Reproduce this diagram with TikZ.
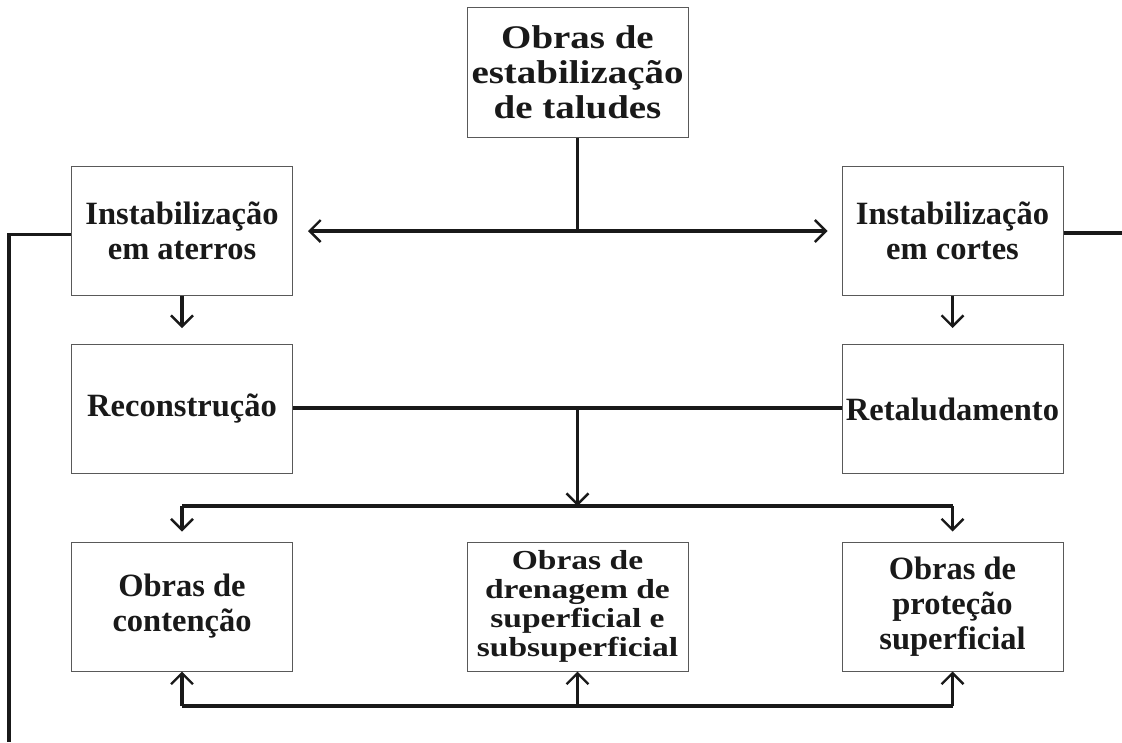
\documentclass[tikz,border=0pt]{standalone}
\usepackage{fontspec}
\setmainfont{Liberation Serif}
\newfontfamily\topfont{Liberation Serif}[FakeStretch=1.18]
\newfontfamily\midfont{Liberation Serif}[FakeStretch=1.22]
\usetikzlibrary{arrows.meta,calc}
\tikzset{
  box/.style={draw=black!65, line width=1pt, minimum width=221pt, minimum height=129pt,
    inner sep=0pt, align=center, text=black!90,
    font=\fontsize{32.5}{35}\selectfont\bfseries},
  conn/.style={line width=3.5pt, draw=black!90},
  arr/.style={conn, -{Straight Barb[length=11pt,width=22pt,line width=2.4pt]}},
  barr/.style={conn, {Straight Barb[length=11pt,width=22pt,line width=2.4pt]}-{Straight Barb[length=11pt,width=22pt,line width=2.4pt]}}
}
\begin{document}
\begin{tikzpicture}[x=1pt,y=-1pt]
\useasboundingbox (0,0) rectangle (1122,742);
\node[box, minimum height=130pt, font=\fontsize{33}{35}\selectfont\bfseries\topfont] (top) at (577.5,72) {Obras de\\estabilização\\de taludes};
\node[box] (ater) at (182,230.5) {Instabilização\\em aterros};
\node[box] (cort) at (952.5,230.5) {Instabilização\\em cortes};
\node[box] (recon) at (182,409) {Reconstrução};
\node[box] (retal) at (952.5,409) {Retaludamento};
\node[box] (cont) at (182,606.5) {Obras de\\contenção};
\node[box, font=\fontsize{27.5}{29}\selectfont\bfseries\midfont] (dren) at (577.5,606.5) {Obras de\\drenagem de\\superficial e\\subsuperficial};
\node[box] (prot) at (952.5,606.5) {Obras de\\proteção\\superficial};

% top distribution
\coordinate (tj) at (top.south |- 0,231);
\draw[conn] (top.south) -- (tj);
\draw[barr] ($(ater.east)+(15,0.5)$) -- ($(cort.west)+(-14,0.5)$);

% side lines
\coordinate (lend) at (9,742);
\draw[conn] ($(ater.west)+(0,4)$) -| (lend);
\coordinate (rend) at (1122,233);
\draw[conn] (cort.east |- rend) -- (rend);

% down arrows
\draw[arr] (ater.south) -- ($(recon.north)+(0,-16)$);
\draw[arr] (cort.south) -- ($(retal.north)+(0,-16)$);

% middle bus
\draw[conn] (recon.east |- 0,408) -- (retal.west |- 0,408);
\coordinate (mj) at (577.5,408);
\coordinate (bus1) at (577.5,506);
\draw[arr] (mj) -- (bus1);
\draw[conn] (cont.north |- bus1) -- (prot.north |- bus1);
\draw[arr] (cont.north |- bus1) -- ($(cont.north)+(0,-10)$);
\draw[arr] (prot.north |- bus1) -- ($(prot.north)+(0,-10)$);

% bottom bus
\coordinate (bus2) at (577.5,706);
\draw[conn] (cont.south |- bus2) -- (prot.south |- bus2);
\draw[arr] (cont.south |- bus2) -- (cont.south);
\draw[arr] (bus2) -- (dren.south);
\draw[arr] (prot.south |- bus2) -- (prot.south);
\end{tikzpicture}
\end{document}
